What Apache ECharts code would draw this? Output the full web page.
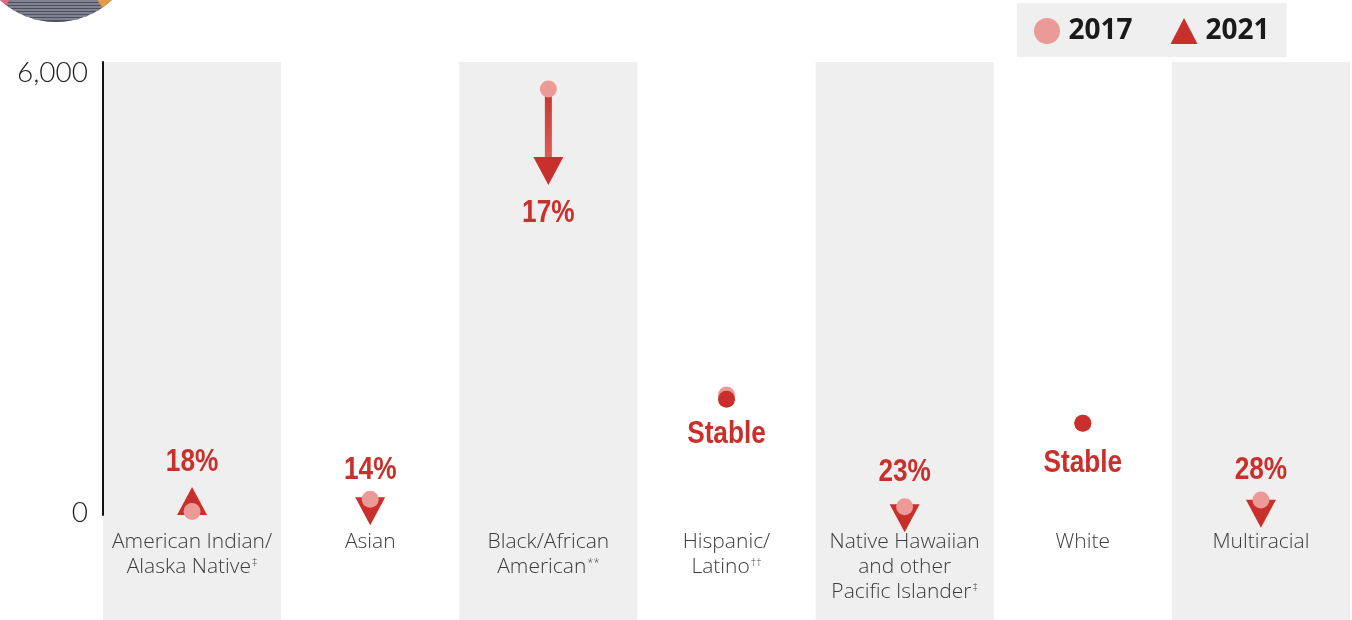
<!DOCTYPE html>
<html>
<head>
<meta charset="utf-8">
<script src="https://cdn.jsdelivr.net/npm/echarts@6/dist/echarts.min.js"></script>
<style>
  html, body { margin: 0; padding: 0; background: #ffffff; }
  #chart { width: 1352px; height: 620px; }
</style>
</head>
<body>
<div id="chart"></div>
<script>
// Groups shown along the horizontal axis
const categories = [
  'American Indian/\nAlaska Native',
  'Asian',
  'Black/African\nAmerican',
  'Hispanic/\nLatino',
  'Native Hawaiian\nand other\nPacific Islander',
  'White',
  'Multiracial'
];
const footnotes = ['‡', '', '**', '††', '‡', '', ''];

// Values for each group in the two years
const values2017 = [22, 187, 5782, 1609, 86, 1225, 177];
const values2021 = [26, 161, 4799, 1550, 66, 1223, 128];

// Change between the years, as printed beside the marks
const changeLabels = ['18%', '14%', '17%', 'Stable', '23%', 'Stable', '28%'];

// Labelled ticks on the vertical axis
const yTicks = [0, 6000];

const RED = '#c9302b';
const PINK = '#eb9a98';

const isStable = i => changeLabels[i] === 'Stable';
const goesDown = i => values2021[i] < values2017[i];

// Vertical shift of each change label from its 2021 mark (px)
const labelShift = [-49, -31, 52, 35, -36, 40, -33];

// Decorative striped disc peeking in at the top-left corner
function cornerDisc() {
  const cx = 56, cy = -60, r = 82;
  const aRight = 55.6 * Math.PI / 180;
  const aLeft = 127.5 * Math.PI / 180;
  const els = [
    { type: 'circle', shape: { cx, cy, r }, style: { fill: '#4d5060' }, z: 0 },
    { type: 'sector', shape: { cx, cy, r, r0: 0, startAngle: aLeft, endAngle: Math.PI * 1.5 }, style: { fill: '#dd6a80' }, z: 1 },
    { type: 'sector', shape: { cx, cy, r, r0: 0, startAngle: -Math.PI / 2, endAngle: aRight }, style: { fill: '#e29c4f' }, z: 1 }
  ];
  for (let y = 1; y < 23; y += 3) {
    const dy = y - cy;
    const half = Math.sqrt(Math.max(r * r - dy * dy, 0));
    const xl = Math.max(cx - half, cx + dy / Math.tan(aLeft));
    const xr = Math.min(cx + half, cx + dy / Math.tan(aRight));
    if (xr > xl) {
      els.push({ type: 'line', shape: { x1: xl, y1: y, x2: xr, y2: y },
        style: { stroke: '#9194a0', lineWidth: 1.4 }, z: 2 });
    }
  }
  return els;
}

const chart = echarts.init(document.getElementById('chart'), null, { renderer: 'canvas' });

const option = {
  backgroundColor: '#ffffff',
  animation: false,
  graphic: cornerDisc(),
  legend: {
    left: 1017,
    top: 3,
    padding: [14, 17, 12, 17],
    backgroundColor: '#efefef',
    itemWidth: 27,
    itemHeight: 26,
    itemGap: 38,
    textStyle: {
      fontFamily: '"Open Sans", sans-serif',
      fontWeight: 'bold',
      fontSize: 28,
      color: '#1a1a1a',
      padding: [0, 0, 0, 3]
    },
    data: [
      { name: '2017', icon: 'circle' },
      { name: '2021', icon: 'triangle' }
    ]
  },
  grid: [
    { left: 103, right: 2, top: 62, bottom: 105 },
    { left: 103, right: 2, top: 62, bottom: 0 }
  ],
  xAxis: [
    {
      type: 'category',
      gridIndex: 0,
      data: categories,
      axisLine: { show: false },
      axisTick: { show: false },
      splitLine: { show: false },
      axisLabel: {
        interval: 0,
        margin: 15,
        fontFamily: '"Open Sans", sans-serif',
        fontWeight: 300,
        fontSize: 21,
        lineHeight: 25,
        color: '#3c3c3c',
        formatter: (value, idx) => value + (footnotes[idx] ? '{s|' + footnotes[idx] + '}' : ''),
        rich: {
          s: { fontSize: 11, color: '#3c3c3c', fontFamily: '"Open Sans", sans-serif', padding: [0, 0, 9, 1], lineHeight: 25 }
        }
      }
    },
    {
      type: 'category',
      gridIndex: 1,
      data: categories,
      axisLine: { show: false },
      axisTick: { show: false },
      axisLabel: { show: false },
      splitLine: { show: false },
      splitArea: { show: true, interval: 0, areaStyle: { color: ['#efefef', 'rgba(255,255,255,0)'] } }
    }
  ],
  yAxis: [
    {
      type: 'value',
      gridIndex: 0,
      min: -27,
      max: 6150,
      splitLine: { show: false },
      axisTick: { show: false },
      axisLine: { show: true, lineStyle: { color: '#111111', width: 2 } },
      axisLabel: {
        customValues: yTicks,
        margin: 15,
        fontFamily: 'Lato, "Open Sans", sans-serif',
        fontWeight: 300,
        fontSize: 28,
        color: '#222222',
        formatter: v => v.toLocaleString('en-US')
      }
    },
    { type: 'value', gridIndex: 1, show: false }
  ],
  series: [
    {
      // stem joining the 2017 dot to the 2021 arrowhead
      name: 'stem',
      type: 'custom',
      xAxisIndex: 0,
      yAxisIndex: 0,
      z: 2,
      data: categories.map((c, i) => [i, values2017[i], values2021[i]]),
      encode: { x: 0, y: [1, 2] },
      renderItem: (params, api) => {
        const i = api.value(0);
        if (isStable(i)) return null;
        const p1 = api.coord([i, api.value(1)]);
        const p2 = api.coord([i, api.value(2)]);
        return {
          type: 'line',
          shape: { x1: p1[0], y1: p1[1], x2: p2[0], y2: p2[1] },
          style: {
            lineWidth: 7,
            stroke: new echarts.graphic.LinearGradient(0, 0, 0, 1, [
              { offset: 0, color: '#c3322c' },
              { offset: 1, color: '#e0605a' }
            ])
          }
        };
      }
    },
    {
      name: '2021',
      type: 'scatter',
      xAxisIndex: 0,
      yAxisIndex: 0,
      z: 3,
      symbol: 'triangle',
      symbolSize: [30, 28],
      itemStyle: { color: RED, opacity: 1 },
      data: values2021.map((v, i) => isStable(i) ? '-' : {
        value: v,
        symbolRotate: goesDown(i) ? 180 : 0,
        symbolOffset: [0, goesDown(i) ? 10 : -10]
      })
    },
    {
      name: '2017',
      type: 'scatter',
      xAxisIndex: 0,
      yAxisIndex: 0,
      z: 4,
      symbol: 'circle',
      symbolSize: 17,
      itemStyle: { color: PINK, opacity: 1 },
      data: values2017
    },
    {
      name: '2021',
      type: 'scatter',
      xAxisIndex: 0,
      yAxisIndex: 0,
      z: 5,
      symbol: 'circle',
      symbolSize: 17,
      itemStyle: { color: RED, opacity: 1 },
      data: values2021.map((v, i) => isStable(i) ? v : '-')
    },
    {
      // condensed bold change labels next to the 2021 marks
      name: 'change',
      type: 'custom',
      xAxisIndex: 0,
      yAxisIndex: 0,
      z: 6,
      data: values2021.map((v, i) => [i, v]),
      encode: { x: 0, y: 1 },
      renderItem: (params, api) => {
        const i = api.value(0);
        const p = api.coord([i, api.value(1)]);
        return {
          type: 'text',
          x: p[0],
          y: p[1] + labelShift[i],
          scaleX: 0.82,
          style: {
            text: changeLabels[i],
            x: 0,
            y: 0,
            align: 'center',
            verticalAlign: 'middle',
            fontFamily: '"Liberation Sans", Arial, sans-serif',
            fontWeight: 'bold',
            fontSize: 32,
            fill: RED
          }
        };
      }
    }
  ]
};

chart.setOption(option);
</script>
</body>
</html>
